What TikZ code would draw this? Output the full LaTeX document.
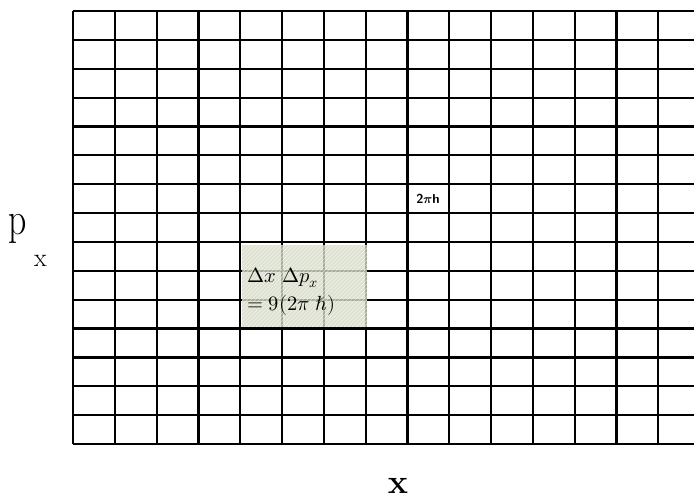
\documentclass[tikz,border=0pt]{standalone}
\usepackage{amsmath}
\usepackage{unicode-math}
\definecolor{boxfill}{RGB}{212,218,194}
\tikzset{
  gridline/.style={line width=2.2pt, black},
  shadebox/.style={fill=boxfill, fill opacity=0.78, draw=none},
  hatch/.style={white, line width=0.7pt, opacity=0.55},
}
\begin{document}
\begin{tikzpicture}[x=1pt,y=-1pt]
\useasboundingbox (0,0) rectangle (694,503);
% grid
\foreach \k in {0,...,14} {
  \draw[gridline] ({73+41.8*\k},11) -- ({73+41.8*\k},444);
}
\foreach \k in {0,...,15} {
  \draw[gridline] (73,{11+28.87*\k}) -- (694,{11+28.87*\k});
}
% small label
\node[font=\sffamily\bfseries\fontsize{13}{14}\selectfont, inner sep=0] (hlab) at (428,199) {2$\symbf{\pi}$h};
% shaded box
\fill[shadebox] (242,245) rectangle (367,327);
\begin{scope}
  \clip (242,245) rectangle (367,327);
  \foreach \s in {0,4,...,220} {
    \draw[hatch] ({242+\s-90},327) -- ({242+\s},237);
  }
\end{scope}
\node[anchor=north west, align=left, inner sep=0, font=\fontsize{20.5}{27}\selectfont] (eq) at (247,268) {$\Delta x\ \Delta p_x$\\[1pt]$= 9(2\pi\ ℏ)$};
% axis labels
\node[anchor=base west, inner sep=0, font=\fontsize{46}{46}\selectfont, xscale=0.78, transform shape] (px) at (8,234) {p};
\node[anchor=base west, inner sep=0, font=\fontsize{26}{26}\selectfont] (pxs) at (34,266) {x};
\node[anchor=base, inner sep=0, font=\bfseries\fontsize{34}{34}\selectfont] (xlab) at (398,493) {x};
\end{tikzpicture}
\end{document}
